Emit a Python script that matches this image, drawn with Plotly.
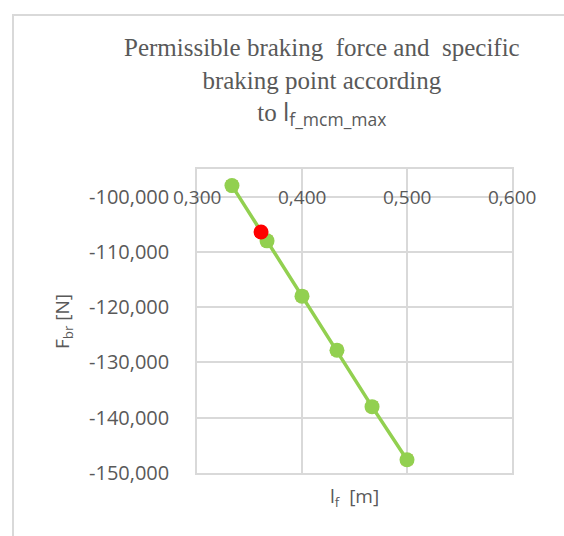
import plotly.graph_objects as go

# data
lf = [0.3333, 0.3667, 0.4000, 0.4333, 0.4667, 0.5000]
fbr = [-98000, -108000, -118000, -127800, -138000, -147600]
lf_point = [0.361]
fbr_point = [-106400]

x_ticks = [0.3, 0.4, 0.5, 0.6]
x_ticktext = ["0,300", "0,400", "0,500", "0,600"]
x_label_level = -100000
y_ticks = [-100000, -110000, -120000, -130000, -140000, -150000]
y_ticktext = ["-100,000", "-110,000", "-120,000", "-130,000", "-140,000", "-150,000"]

gray = "#595959"
grid = "#d9d9d9"
sans = "Open Sans"

fig = go.Figure()
fig.add_trace(go.Scatter(x=lf, y=fbr, mode="markers",
                         marker=dict(symbol="square", size=11, color="#ed7d31"),
                         showlegend=False, hoverinfo="skip"))
fig.add_trace(go.Scatter(x=lf, y=fbr, mode="lines+markers",
                         line=dict(color="#92d050", width=3.5),
                         marker=dict(symbol="circle", size=15, color="#92d050"),
                         showlegend=False))
fig.add_trace(go.Scatter(x=lf_point, y=fbr_point, mode="markers",
                         marker=dict(symbol="circle", size=15, color="#ff0000"),
                         showlegend=False))

title = ("Permissible braking  force and  specific<br>braking point according<br>"
         "to <span style='font-family:Open Sans'>l<sub>f_mcm_max</sub></span>")

annotations = [
    dict(text=title, xref="paper", yref="paper",
         x=(322 - 197) / 315, y=(473 - 32) / 304, xanchor="center", yanchor="top",
         showarrow=False, align="center",
         font=dict(family="Liberation Serif", size=25, color=gray)),
    dict(text="F<sub>br</sub> [N]", xref="paper", yref="paper",
         x=(63 - 197) / 315, y=(473 - 322) / 304, textangle=-90, showarrow=False,
         xanchor="center", yanchor="middle",
         font=dict(family=sans, size=19, color=gray)),
    dict(text="l<sub>f</sub>  [m]", xref="paper", yref="paper",
         x=0.5, y=(473 - 497) / 304, showarrow=False,
         xanchor="center", yanchor="middle",
         font=dict(family=sans, size=19, color=gray)),
]
for xv, txt in zip(x_ticks, x_ticktext):
    annotations.append(dict(text=txt, x=xv, y=x_label_level, xref="x", yref="y",
                            showarrow=False, xanchor="center", yanchor="middle",
                            font=dict(family=sans, size=19, color=gray)))

fig.update_layout(
    width=564, height=536,
    margin=dict(l=197, r=52, t=169, b=63),
    paper_bgcolor="white", plot_bgcolor="white",
    xaxis=dict(range=[0.3, 0.6], tickvals=x_ticks, showticklabels=False, ticks="",
               showgrid=True, gridcolor=grid, gridwidth=1.5,
               showline=True, linecolor=grid, linewidth=1.5, mirror=True, zeroline=False),
    yaxis=dict(range=[-150000, -95000], tickvals=y_ticks, ticktext=y_ticktext,
               ticks="", showgrid=True, gridcolor=grid, gridwidth=1.5,
               showline=True, linecolor=grid, linewidth=1.5, mirror=True, zeroline=False,
               ticklabelstandoff=22,
               tickfont=dict(family=sans, size=20, color=gray)),
    shapes=[dict(type="rect", xref="paper", yref="paper",
                 x0=(13 - 197) / 315, x1=1.5, y0=-0.5, y1=(473 - 15) / 304,
                 line=dict(color=grid, width=2), layer="below")],
    annotations=annotations,
)

fig.write_html("out.html")
